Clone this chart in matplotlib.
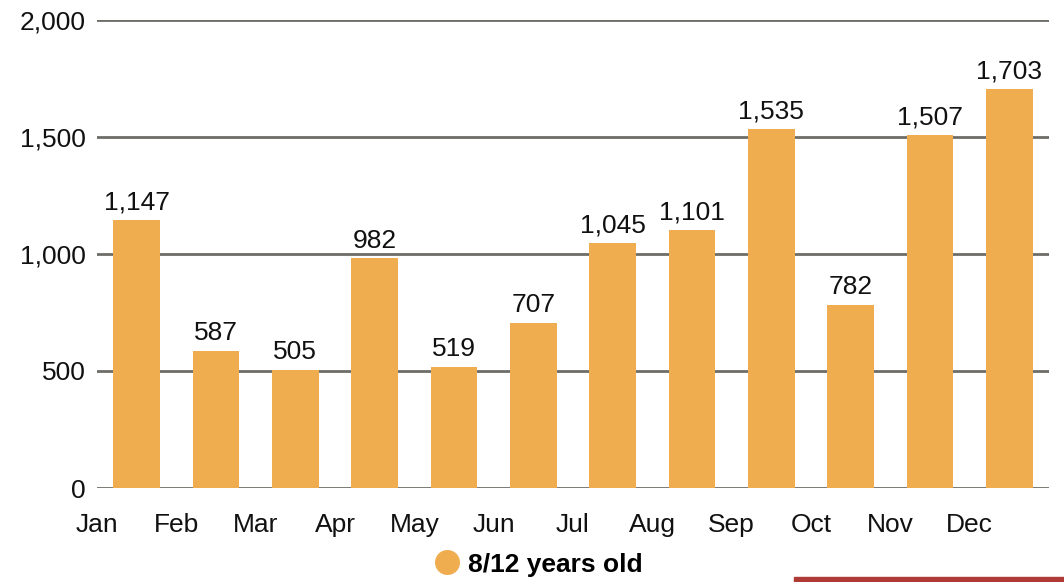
import matplotlib
matplotlib.use("Agg")
import matplotlib.pyplot as plt
from matplotlib.lines import Line2D
from matplotlib.patches import Rectangle
from matplotlib.ticker import FuncFormatter

months = ["Jan", "Feb", "Mar", "Apr", "May", "Jun", "Jul", "Aug", "Sep", "Oct", "Nov", "Dec"]
values = [1147, 587, 505, 982, 519, 707, 1045, 1101, 1535, 782, 1507, 1703]
series_name = "8/12 years old"
y_ticks = [0, 500, 1000, 1500, 2000]

bar_color = "#EFAD4F"
grid_color = "#6E6C66"

plt.rcParams["font.family"] = ["Liberation Sans", "DejaVu Sans"]

fig = plt.figure(figsize=(10.64, 5.82), dpi=100)
ax = fig.add_axes([97 / 1064, (582 - 488) / 582, (1049 - 97) / 1064, (488 - 20) / 582])

x = list(range(len(months)))
bars = ax.bar(x, values, width=0.59, color=bar_color, zorder=3)

for xi, v in zip(x, values):
    ax.annotate(f"{v:,}", (xi, v), xytext=(0, 4), textcoords="offset points",
                ha="center", va="bottom", fontsize=19, color="#111111", zorder=4)

ax.set_xlim(-0.5, len(months) - 0.5)
ax.set_ylim(0, 2000)
ax.set_yticks(y_ticks)
ax.yaxis.set_major_formatter(FuncFormatter(lambda v, p: f"{int(v):,}"))
ax.set_xticks([i - 0.5 for i in x])
ax.set_xticklabels(months)

ax.grid(axis="y", color=grid_color, linewidth=2, zorder=1)
ax.grid(axis="x", visible=False)
for s in ax.spines.values():
    s.set_visible(False)
ax.tick_params(axis="both", length=0, labelsize=19, colors="#111111")
ax.tick_params(axis="y", pad=8)
ax.tick_params(axis="x", pad=18)

handle = Line2D([], [], marker="o", linestyle="none", markersize=17,
                markerfacecolor=bar_color, markeredgecolor=bar_color)
fig.legend([handle], [series_name], loc="center", bbox_to_anchor=(0.506, 0.030),
           frameon=False, prop={"weight": "bold", "size": 19}, handletextpad=0.3,
           handlelength=1.0)

fig.patches.append(Rectangle((794 / 1064, 0), (1064 - 794) / 1064, 5 / 582,
                             transform=fig.transFigure, color="#B03A35", zorder=5))

fig.savefig("out.png", dpi=100)
